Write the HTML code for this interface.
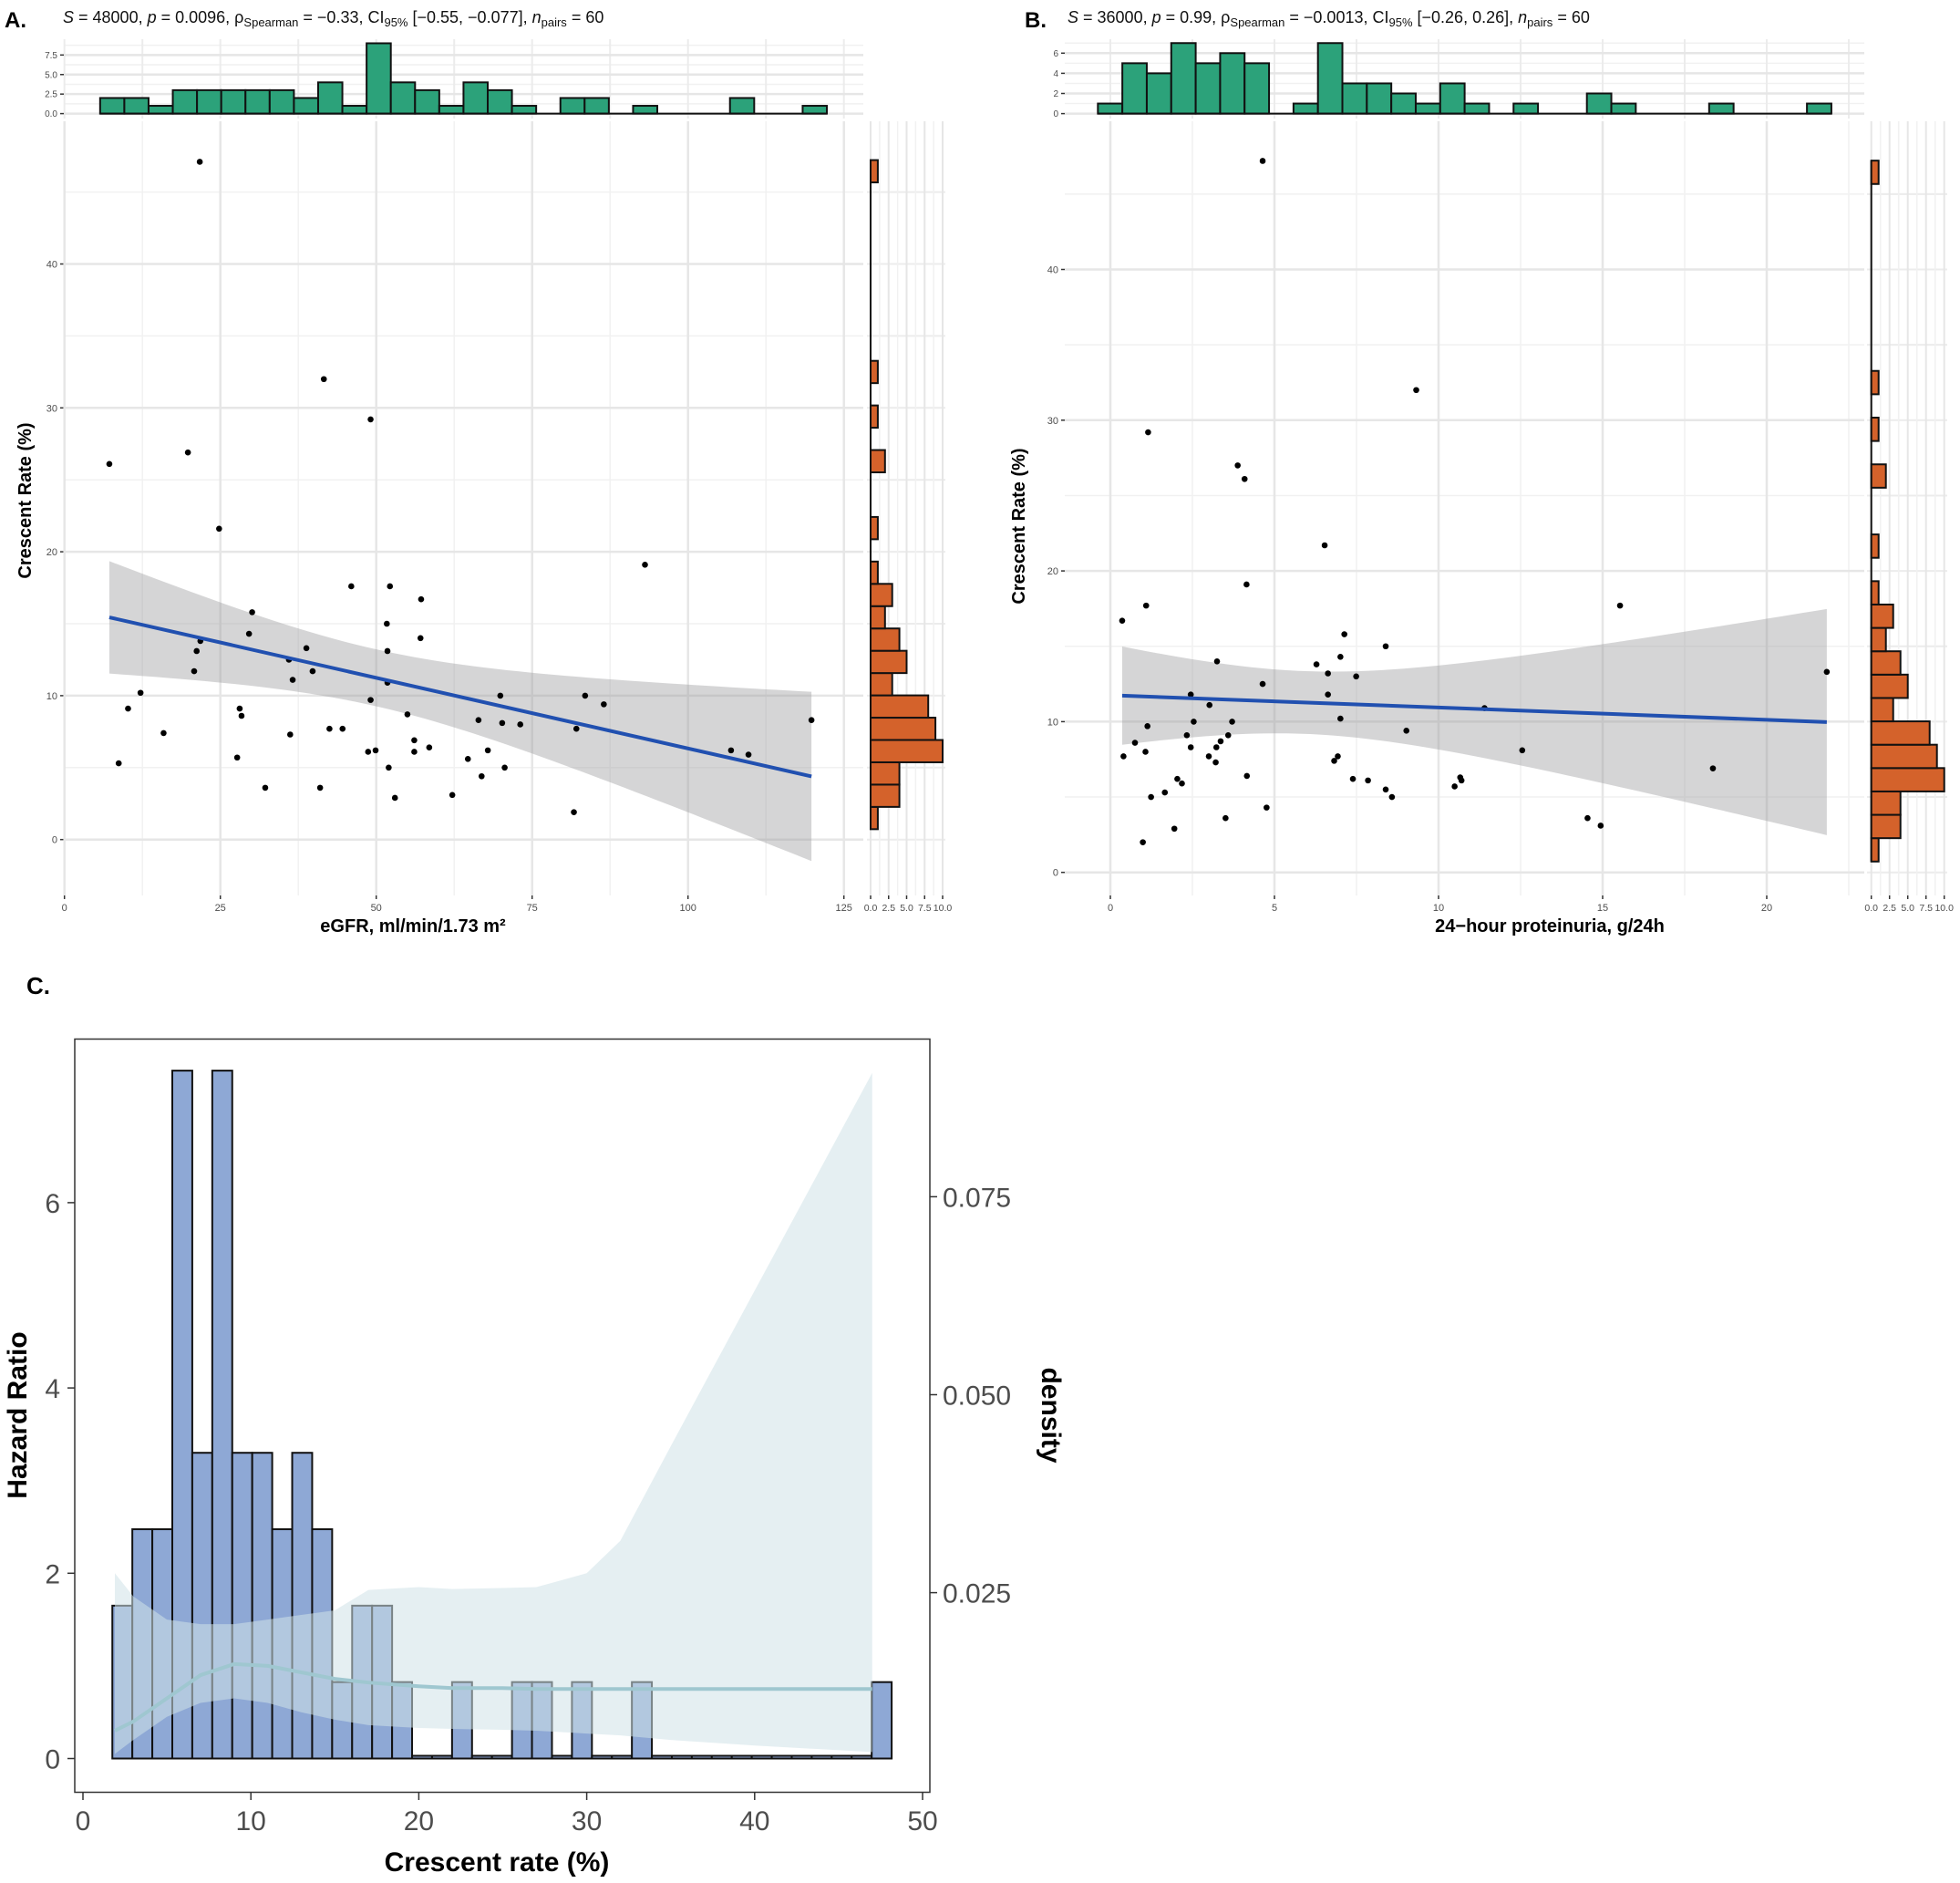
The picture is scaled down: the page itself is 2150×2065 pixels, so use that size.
<!DOCTYPE html>
<html><head><meta charset="utf-8"><title>Crescent rate figure</title>
<style>
html,body{margin:0;padding:0;background:#fff;}
svg{display:block;font-family:"Liberation Sans",Arial,sans-serif;}
</style></head>
<body>
<svg id="chart" width="2150" height="2065" viewBox="0 0 2150 2065" xmlns="http://www.w3.org/2000/svg">
<rect x="0" y="0" width="2150" height="2065" fill="#fff"/>
<text x="5" y="30" font-size="24" font-weight="bold" fill="#000">A.</text>
<text x="69" y="25" font-size="18" fill="#111"><tspan font-style="italic">S</tspan> = 48000, <tspan font-style="italic">p</tspan> = 0.0096, ρ<tspan font-size="13" dy="4">Spearman</tspan><tspan dy="-4"> = −0.33, CI</tspan><tspan font-size="13" dy="4">95%</tspan><tspan dy="-4"> [−0.55, −0.077], </tspan><tspan font-style="italic">n</tspan><tspan font-size="13" dy="4">pairs</tspan><tspan dy="-4"> = 60</tspan></text>
<text x="1124" y="30" font-size="24" font-weight="bold" fill="#000">B.</text>
<text x="1171" y="25" font-size="18" fill="#111"><tspan font-style="italic">S</tspan> = 36000, <tspan font-style="italic">p</tspan> = 0.99, ρ<tspan font-size="13" dy="4">Spearman</tspan><tspan dy="-4"> = −0.0013, CI</tspan><tspan font-size="13" dy="4">95%</tspan><tspan dy="-4"> [−0.26, 0.26], </tspan><tspan font-style="italic">n</tspan><tspan font-size="13" dy="4">pairs</tspan><tspan dy="-4"> = 60</tspan></text>
<text x="453" y="1022" font-size="20" font-weight="bold" text-anchor="middle" fill="#000">eGFR, ml/min/1.73 m²</text>
<text transform="translate(34,549) rotate(-90)" font-size="20" font-weight="bold" text-anchor="middle" fill="#000">Crescent Rate (%)</text>
<text x="1700" y="1022" font-size="20" font-weight="bold" text-anchor="middle" fill="#000">24−hour proteinuria, g/24h</text>
<text transform="translate(1124,577) rotate(-90)" font-size="20" font-weight="bold" text-anchor="middle" fill="#000">Crescent Rate (%)</text>
<text x="29" y="1090" font-size="26" font-weight="bold" fill="#000">C.</text>
<text x="545" y="2052" font-size="30" font-weight="bold" text-anchor="middle" fill="#000">Crescent rate (%)</text>
<text transform="translate(29,1552) rotate(-90)" font-size="30" font-weight="bold" text-anchor="middle" fill="#000">Hazard Ratio</text>
<text transform="translate(1143,1552) rotate(90)" font-size="30" font-weight="bold" text-anchor="middle" fill="#000">density</text>
</svg>
<script>
// ---------- Panel A data ----------
const aEgfr=[21.7,41.6,49.1,19.8,7.2,24.8,93.1,46.0,52.2,57.2,30.1,51.7,29.6,57.1,21.8,21.2,51.8,38.8,36.0,36.6,20.8,39.8,51.8,12.2,69.9,83.5,49.1,86.5,10.2,28.1,28.4,55.0,66.4,119.8,70.2,73.1,42.5,44.6,82.1,15.9,36.2,56.1,56.1,58.5,49.9,48.7,67.9,106.9,109.7,27.7,64.7,8.7,52.0,70.6,66.9,32.2,41.0,62.2,53.0,81.7];
const aCrescent=[47.1,32.0,29.2,26.9,26.1,21.6,19.1,17.6,17.6,16.7,15.8,15.0,14.3,14.0,13.8,13.1,13.1,13.3,12.5,11.1,11.7,11.7,10.9,10.2,10.0,10.0,9.7,9.4,9.1,9.1,8.6,8.7,8.3,8.3,8.1,8.0,7.7,7.7,7.7,7.4,7.3,6.9,6.1,6.4,6.2,6.1,6.2,6.2,5.9,5.7,5.6,5.3,5.0,5.0,4.4,3.6,3.6,3.1,2.9,1.9];
const aTopCounts=[2,2,1,3,3,3,3,3,2,4,1,9,4,3,1,4,3,1,0,2,2,0,1,0,0,0,2,0,0,1];
const aTopBinStart=5.72, aTopBinWidth=3.885;
// ---------- Panel B data ----------
const bProt=[4.64,9.32,1.15,3.88,4.09,6.53,4.15,1.09,15.53,0.36,7.13,8.39,3.25,7.01,6.28,6.63,7.49,21.83,4.64,2.45,6.63,3.02,11.4,7.01,2.54,3.71,1.13,9.02,2.33,3.59,0.75,3.36,2.45,3.23,12.55,1.07,0.40,3.00,6.93,3.21,6.82,18.36,4.16,2.04,7.39,7.85,2.18,10.66,10.70,10.49,8.39,1.66,1.24,8.58,4.76,3.51,14.54,14.94,1.95,0.99];
const bCrescent=[47.2,32.0,29.2,27.0,26.1,21.7,19.1,17.7,17.7,16.7,15.8,15.0,14.0,14.3,13.8,13.2,13.0,13.3,12.5,11.8,11.8,11.1,10.9,10.2,10.0,10.0,9.7,9.4,9.1,9.1,8.6,8.7,8.3,8.3,8.1,8.0,7.7,7.7,7.7,7.3,7.4,6.9,6.4,6.2,6.2,6.1,5.9,6.3,6.1,5.7,5.5,5.3,5.0,5.0,4.3,3.6,3.6,3.1,2.9,2.0];
const bTopCounts=[1,5,4,7,5,6,5,0,1,7,3,3,2,1,3,1,0,1,0,0,2,1,0,0,0,1,0,0,0,1];
const bTopBinStart=-0.38, bTopBinWidth=0.745;
// ---------- shared right marginal (crescent rate) ----------
const rightCounts=[1,4,4,10,9,8,3,5,4,2,3,1,0,1,0,0,2,0,1,0,1,0,0,0,0,0,0,0,0,1];
const rightBinStart=0.72, rightBinWidth=1.55;
// ---------- Panel C data ----------
const cCounts=[2,3,3,9,4,9,4,4,3,4,3,1,2,2,1,0,0,1,0,0,1,1,0,1,0,0,1,0,0,0,0,0,0,0,0,0,0,0,1];
const cBinStart=1.75, cBinWidth=1.19, cHrPerCount=0.825;
const cSplineX=[1.9,3,5,7,9,11,13,15,17,20,22,25,27,28,30,32,35,40,47];
const cSplineHR=[0.3,0.4,0.65,0.9,1.02,1.0,0.93,0.86,0.82,0.78,0.76,0.76,0.75,0.75,0.75,0.75,0.75,0.75,0.75];
const cSplineLo=[0.05,0.2,0.45,0.6,0.65,0.6,0.5,0.42,0.36,0.33,0.32,0.31,0.3,0.29,0.27,0.25,0.2,0.14,0.07];
const cSplineHi=[2.0,1.75,1.5,1.45,1.45,1.5,1.55,1.6,1.82,1.85,1.83,1.84,1.85,1.9,2.0,2.35,3.37,5.05,7.4];
const cXTicks=[0,10,20,30,40,50];
const cYTicks=[0,2,4,6];
const cDensityTicks=[0.025,0.050,0.075];
const cDensityLabels=['0.025','0.050','0.075'];

const NS='http://www.w3.org/2000/svg';
const svg=document.getElementById('chart');
function el(tag,attrs,parent){const e=document.createElementNS(NS,tag);for(const k in attrs)e.setAttribute(k,attrs[k]);(parent||svg).appendChild(e);return e;}

function drawScatterPanel(p){
  const g=el('g',{});
  
  
  p.yMinor.forEach(v=>{const l=el('line',{x1:p.mainX0,x2:p.mainX1,y1:p.ys(v),y2:p.ys(v),stroke:'#f1f1f1','stroke-width':1.5},g);
    
    });
  p.xMinor.forEach(v=>{const l=el('line',{x1:p.xs(v),x2:p.xs(v),y1:p.mainY0,y2:p.mainY1,stroke:'#f1f1f1','stroke-width':1.5},g);
    
    });
  p.yMajor.forEach(v=>{const l=el('line',{x1:p.mainX0,x2:p.mainX1,y1:p.ys(v),y2:p.ys(v),stroke:'#e6e6e6','stroke-width':2.5},g);
    
    
    const t=el('line',{x1:p.mainX0-4,x2:p.mainX0,y1:p.ys(v),y2:p.ys(v),stroke:'#333','stroke-width':1.5},g);
    
    
    const tx=el('text',{x:p.mainX0-7,y:p.ys(v)+4,'font-size':11,'text-anchor':'end',fill:'#4d4d4d'},g);
    
    
    tx.textContent=String(v);});
  p.xMajor.forEach(v=>{const l=el('line',{x1:p.xs(v),x2:p.xs(v),y1:p.mainY0,y2:p.mainY1,stroke:'#e6e6e6','stroke-width':2.5},g);
    
    
    const t=el('line',{x1:p.xs(v),x2:p.xs(v),y1:p.mainY1,y2:p.mainY1+4,stroke:'#333','stroke-width':1.5},g);
    
    
    const tx=el('text',{x:p.xs(v),y:p.mainY1+17,'font-size':11,'text-anchor':'middle',fill:'#4d4d4d'},g);
    
    
    tx.textContent=String(v);});
  p.tMinor.forEach(v=>{const l=el('line',{x1:p.mainX0,x2:p.mainX1,y1:p.ty(v),y2:p.ty(v),stroke:'#f1f1f1','stroke-width':1.5},g);
    
    });
  p.xMajor.concat(p.xMinor).forEach(v=>{const l=el('line',{x1:p.xs(v),x2:p.xs(v),y1:p.topY0,y2:p.topY1,stroke:'#ececec','stroke-width':2},g);
    
    });
  p.tMajor.forEach((v,i)=>{const l=el('line',{x1:p.mainX0,x2:p.mainX1,y1:p.ty(v),y2:p.ty(v),stroke:'#e6e6e6','stroke-width':2.5},g);
    
    
    const t=el('line',{x1:p.mainX0-4,x2:p.mainX0,y1:p.ty(v),y2:p.ty(v),stroke:'#333','stroke-width':1.5},g);
    
    
    const tx=el('text',{x:p.mainX0-7,y:p.ty(v)+3.5,'font-size':10,'text-anchor':'end',fill:'#4d4d4d'},g);
    
    
    tx.textContent=p.tLabels[i];});
  p.yMinor.concat(p.yMajor).forEach(v=>{const l=el('line',{x1:p.rightX0,x2:p.rightX1,y1:p.ys(v),y2:p.ys(v),stroke:'#ececec','stroke-width':2},g);
    
    });
  rMinor.forEach(v=>{const l=el('line',{x1:p.rx(v),x2:p.rx(v),y1:p.mainY0,y2:p.mainY1,stroke:'#f1f1f1','stroke-width':1.5},g);
    
    });
  rMajor.forEach((v,i)=>{const l=el('line',{x1:p.rx(v),x2:p.rx(v),y1:p.mainY0,y2:p.mainY1,stroke:'#e6e6e6','stroke-width':2},g);
    
    
    const t=el('line',{x1:p.rx(v),x2:p.rx(v),y1:p.mainY1,y2:p.mainY1+4,stroke:'#333','stroke-width':1.5},g);
    
    
    const tx=el('text',{x:p.rx(v),y:p.mainY1+17,'font-size':10.5,'text-anchor':'middle',fill:'#4d4d4d'},g);
    
    
    tx.textContent=rLabels[i];});
  p.topCounts.forEach((c,i)=>{
    const x0=p.xs(p.topStart+i*p.topWidth), x1=p.xs(p.topStart+(i+1)*p.topWidth);
    if(c>0){const r=el('rect',{x:x0,y:p.ty(c),width:x1-x0,height:p.ty(0)-p.ty(c),fill:'#2ca27a',stroke:'#111','stroke-width':2},g);
      
      }
  });
  const base=el('line',{x1:p.xs(p.topStart),x2:p.xs(p.topStart+p.topCounts.length*p.topWidth),y1:p.ty(0),y2:p.ty(0),stroke:'#111','stroke-width':2},g);
  
  
  const rb=el('line',{x1:p.rx(0),x2:p.rx(0),y1:p.ys(rightBinStart),y2:p.ys(rightBinStart+rightCounts.length*rightBinWidth),stroke:'#111','stroke-width':2},g);
  
  
  rightCounts.forEach((c,i)=>{
    if(c<=0)return;
    const y0=p.ys(rightBinStart+(i+1)*rightBinWidth), y1=p.ys(rightBinStart+i*rightBinWidth);
    const r=el('rect',{x:p.rx(0),y:y0,width:p.rx(c)-p.rx(0),height:y1-y0,fill:'#d4622b',stroke:'#111','stroke-width':2},g);
    
    
  });
  const xsD=p.xData, ysD=p.yData, n=xsD.length;
  const mx=xsD.reduce((a,b)=>a+b,0)/n, my=ysD.reduce((a,b)=>a+b,0)/n;
  let sxx=0,sxy=0; for(let i=0;i<n;i++){sxx+=(xsD[i]-mx)**2;sxy+=(xsD[i]-mx)*(ysD[i]-my);}
  const b1=sxy/sxx, b0=my-b1*mx;
  let sse=0; for(let i=0;i<n;i++){sse+=(ysD[i]-b0-b1*xsD[i])**2;}
  const s=Math.sqrt(sse/(n-2)), tq=2.0017;
  const xmin=Math.min(...xsD), xmax=Math.max(...xsD);
  const up=[],lo=[];
  for(let k=0;k<=60;k++){const x=xmin+(xmax-xmin)*k/60;const f=b0+b1*x;const h=tq*s*Math.sqrt(1/n+(x-mx)**2/sxx);
    up.push(p.xs(x)+','+p.ys(f+h)); lo.unshift(p.xs(x)+','+p.ys(f-h));}
  const band=el('polygon',{points:up.concat(lo).join(' '),fill:'#9a9b9e','fill-opacity':0.42},g);
  
  
  p.xData.forEach((x,i)=>{const c=el('circle',{cx:p.xs(x),cy:p.ys(p.yData[i]),r:3.3,fill:'#000'},g);
    
    });
  const line=el('line',{x1:p.xs(xmin),y1:p.ys(b0+b1*xmin),x2:p.xs(xmax),y2:p.ys(b0+b1*xmax),stroke:'#2150b0','stroke-width':4},g);
  
  
}
const rMajor=[0,2.5,5,7.5,10], rMinor=[1.25,3.75,6.25,8.75];
const rLabels=['0.0','2.5','5.0','7.5','10.0'];

drawScatterPanel({name:'panel-a',xData:aEgfr,yData:aCrescent,
  xs:v=>70.7+6.84*v, ys:v=>920.7-15.78*v, ty:v=>124.6-8.57*v, rx:v=>955+7.9*v,
  mainX0:70,mainX1:947,mainY0:133,mainY1:982,topY0:43,topY1:130,rightX0:951,rightX1:1037,
  xMajor:[0,25,50,75,100,125],xMinor:[12.5,37.5,62.5,87.5,112.5],
  yMajor:[0,10,20,30,40],yMinor:[5,15,25,35,45],
  tMajor:[0,2.5,5,7.5],tMinor:[1.25,3.75,6.25,8.75],tLabels:['0.0','2.5','5.0','7.5'],
  topCounts:aTopCounts,topStart:aTopBinStart,topWidth:aTopBinWidth});
drawScatterPanel({name:'panel-b',xData:bProt,yData:bCrescent,
  xs:v=>1218+36*v, ys:v=>956.7-16.53*v, ty:v=>124.6-11.05*v, rx:v=>2052.7+8*v,
  mainX0:1168,mainX1:2045,mainY0:133,mainY1:982,topY0:43,topY1:130,rightX0:2048,rightX1:2136,
  xMajor:[0,5,10,15,20],xMinor:[2.5,7.5,12.5,17.5,22.5],
  yMajor:[0,10,20,30,40],yMinor:[5,15,25,35,45],
  tMajor:[0,2,4,6],tMinor:[1,3,5,7],tLabels:['0','2','4','6'],
  topCounts:bTopCounts,topStart:bTopBinStart,topWidth:bTopBinWidth});

(function(){
  const xC=v=>91+18.42*v, yC=v=>1928.5-101.6*v, yD=v=>1746.6-(v-0.025)*8684;
  const g=el('g',{});
  
  
  cCounts.forEach((c,i)=>{
    const x0=xC(cBinStart+i*cBinWidth), x1=xC(cBinStart+(i+1)*cBinWidth);
    const h=c>0?yC(0)-yC(c*cHrPerCount):3;
    const r=el('rect',{x:x0,y:yC(0)-h,width:x1-x0,height:h,fill:'#8ea8d5',stroke:'#111','stroke-width':2},g);
    
    
  });
  const up=cSplineX.map((x,i)=>xC(x)+','+yC(cSplineHi[i]));
  const lo=cSplineX.map((x,i)=>xC(x)+','+yC(cSplineLo[i])).reverse();
  const band=el('polygon',{points:up.concat(lo).join(' '),fill:'#cfe2e7','fill-opacity':0.55},g);
  
  
  const pl=el('polyline',{points:cSplineX.map((x,i)=>xC(x)+','+yC(cSplineHR[i])).join(' '),fill:'none',stroke:'#9fc7d0','stroke-width':4,'stroke-linejoin':'round'},g);
  
  
  const box=el('rect',{x:82,y:1139.5,width:938,height:826,fill:'none',stroke:'#333','stroke-width':1.5},g);
  
  
  cXTicks.forEach(v=>{const t=el('line',{x1:xC(v),x2:xC(v),y1:1965.5,y2:1974,stroke:'#333','stroke-width':1.5},g);
    
    
    const tx=el('text',{x:xC(v),y:2007,'font-size':30,'text-anchor':'middle',fill:'#4d4d4d'},g);
    
    
    tx.textContent=String(v);});
  cYTicks.forEach(v=>{const t=el('line',{x1:74,x2:82,y1:yC(v),y2:yC(v),stroke:'#333','stroke-width':1.5},g);
    
    
    const tx=el('text',{x:66,y:yC(v)+11,'font-size':30,'text-anchor':'end',fill:'#4d4d4d'},g);
    
    
    tx.textContent=String(v);});
  cDensityTicks.forEach((v,i)=>{const t=el('line',{x1:1020,x2:1028,y1:yD(v),y2:yD(v),stroke:'#333','stroke-width':1.5},g);
    
    
    const tx=el('text',{x:1034,y:yD(v)+11,'font-size':30,'text-anchor':'start',fill:'#4d4d4d'},g);
    
    
    tx.textContent=cDensityLabels[i];});
})();
</script>
</body></html>
